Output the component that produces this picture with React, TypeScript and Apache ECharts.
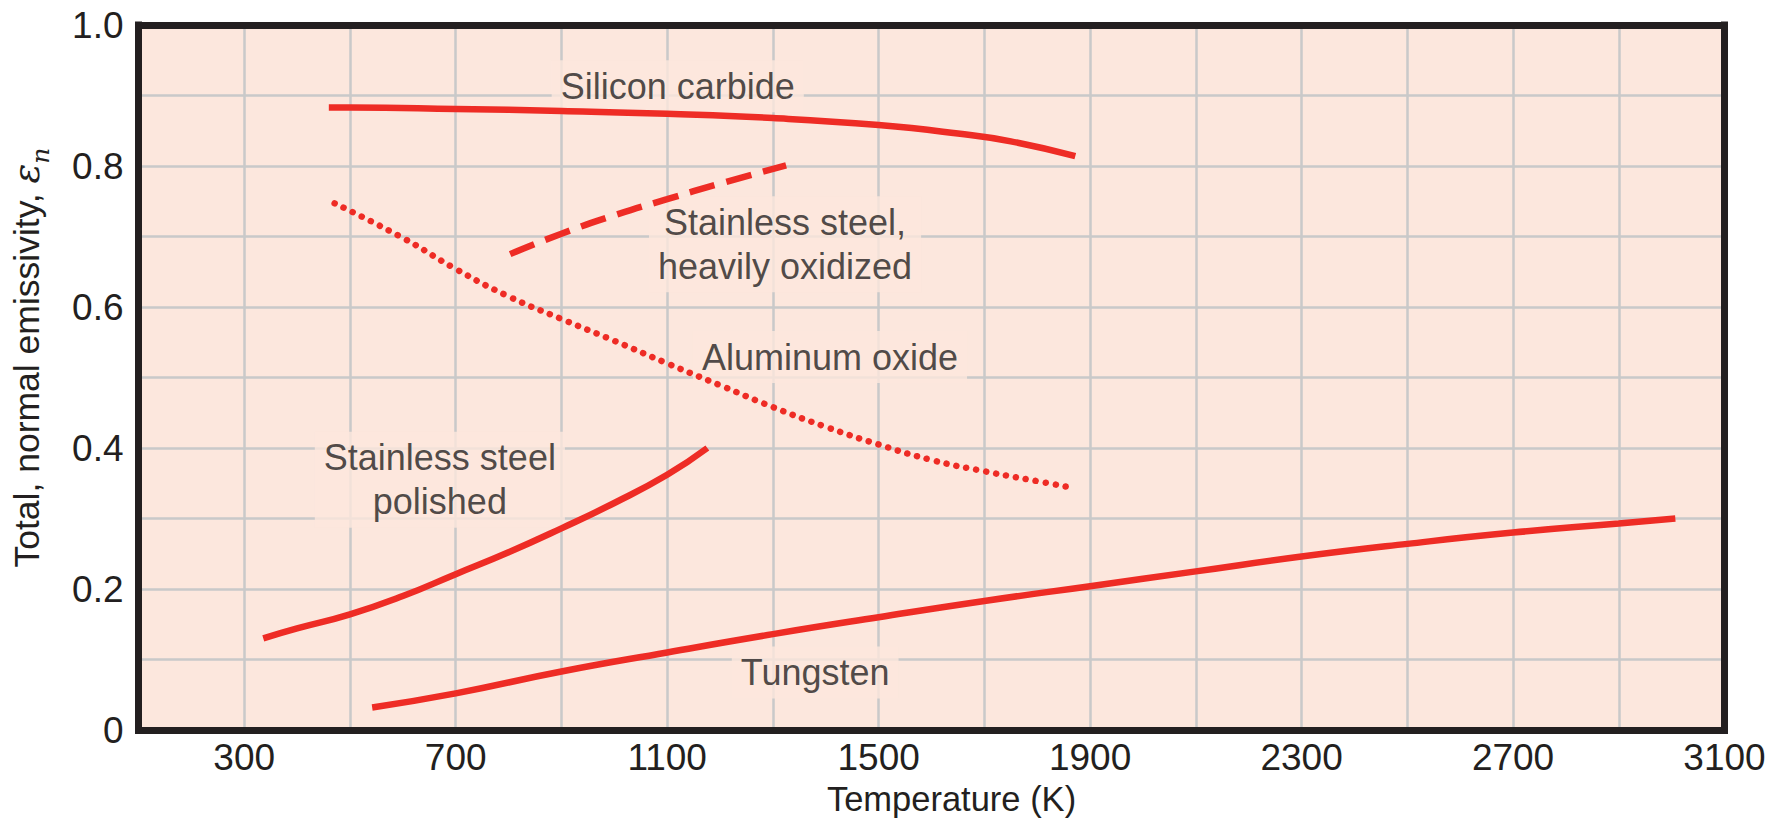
import React, { useEffect, useRef } from 'react';
import * as echarts from 'echarts';

// ---- axis settings ----
const xMin = 100;
const xMax = 3100;
const xStep = 200;
const yMin = 0;
const yMax = 1;
const yStep = 0.1;
const xTickLabels = ['300', '700', '1100', '1500', '1900', '2300', '2700', '3100'];
const yTickLabels = ['0', '0.2', '0.4', '0.6', '0.8', '1.0'];

// ---- series data (temperature K, total normal emissivity) ----
const siliconCarbideT = [460, 500, 700, 900, 1100, 1300, 1500, 1650, 1750, 1872];
const siliconCarbideE = [0.883, 0.883, 0.881, 0.878, 0.874, 0.868, 0.858, 0.846, 0.835, 0.814];

const ssOxidizedT = [803, 900, 1000, 1100, 1200, 1325];
const ssOxidizedE = [0.675, 0.704, 0.73, 0.753, 0.775, 0.801];

const aluminumOxideT = [471, 600, 700, 800, 900, 1000, 1100, 1200, 1300, 1400, 1500, 1600, 1700, 1800, 1870];
const aluminumOxideE = [0.747, 0.698, 0.654, 0.615, 0.583, 0.552, 0.52, 0.489, 0.458, 0.43, 0.405, 0.383, 0.367, 0.353, 0.343];

const ssPolishedT = [336, 400, 500, 600, 700, 800, 900, 1000, 1100, 1176];
const ssPolishedE = [0.13, 0.144, 0.164, 0.19, 0.221, 0.252, 0.286, 0.322, 0.362, 0.4];

const tungstenT = [542, 700, 900, 1100, 1300, 1500, 1700, 1900, 2100, 2300, 2500, 2700, 2900, 3007];
const tungstenE = [0.032, 0.052, 0.083, 0.11, 0.136, 0.16, 0.183, 0.204, 0.225, 0.246, 0.264, 0.28, 0.293, 0.3];

// ---- in-plot annotations ----
const labelTexts = ['Silicon carbide', 'Stainless steel,\nheavily oxidized', 'Aluminum oxide', 'Stainless steel\npolished', 'Tungsten'];
const labelT = [1120, 1323, 1408, 670, 1380];
const labelE = [0.913, 0.689, 0.529, 0.355, 0.0816];

const RED = '#ee2c25';
const INK = '#231f20';
const PLOT_BG = '#fce7dd';
const GRID = '#c9c9c9';
const FONT = '"Liberation Sans", Arial, sans-serif';

const pairs = (t: number[], e: number[]) => t.map((v, i) => [v, e[i]]);

export default function App() {
  const ref = useRef<HTMLDivElement>(null);

  useEffect(() => {
    document.body.style.margin = '0';
    if (!ref.current) return;
    const chart = echarts.init(ref.current, undefined, { renderer: 'svg' });

    const frame = { show: true, onZero: false, lineStyle: { color: INK, width: 7, cap: 'square' } };

    const lineBase = {
      type: 'line',
      showSymbol: false,
      symbol: 'none',
      smooth: 0.5,
      z: 3,
      silent: true,
    };

    chart.setOption({
      animation: false,
      backgroundColor: '#ffffff',
      grid: {
        left: 136.5,
        top: 25,
        width: 1588,
        height: 705,
        show: true,
        backgroundColor: PLOT_BG,
        borderWidth: 0,
      },
      xAxis: [
        {
          type: 'value',
          min: xMin,
          max: xMax,
          interval: xStep,
          position: 'bottom',
          axisLine: frame,
          axisTick: { show: false },
          splitLine: { show: true, lineStyle: { color: GRID, width: 2.5 } },
          axisLabel: {
            margin: 9,
            fontSize: 37,
            color: INK,
            fontFamily: FONT,
            formatter: (v: number) => (xTickLabels.includes(String(Math.round(v))) ? String(Math.round(v)) : ''),
          },
          name: 'Temperature (K)',
          nameLocation: 'middle',
          nameGap: 51,
          nameTextStyle: { fontSize: 34.5, color: INK, fontFamily: FONT, padding: [0, 0, 0, 40] },
        },
        {
          type: 'value',
          min: xMin,
          max: xMax,
          interval: xStep,
          position: 'top',
          axisLine: frame,
          axisTick: { show: false },
          axisLabel: { show: false },
          splitLine: { show: false },
        },
      ],
      yAxis: [
        {
          type: 'value',
          min: yMin,
          max: yMax,
          interval: yStep,
          position: 'left',
          axisLine: frame,
          axisTick: { show: false },
          splitLine: { show: true, lineStyle: { color: GRID, width: 2.5 } },
          axisLabel: {
            margin: 15,
            fontSize: 37,
            color: INK,
            fontFamily: FONT,
            formatter: (v: number) => {
              const s = Math.abs(v) < 1e-9 ? '0' : v.toFixed(1);
              return yTickLabels.includes(s) ? s : '';
            },
          },
          name: '{a|Total, normal emissivity, }{e|ε}{n|n}',
          nameLocation: 'middle',
          nameGap: 92,
          nameRotate: 90,
          nameTextStyle: {
            padding: [0, 0, 0, 40],
            rich: {
              a: { fontSize: 35.5, color: INK, fontFamily: FONT, lineHeight: 40 },
              e: { fontSize: 37, color: INK, fontFamily: '"DejaVu Serif", serif', fontStyle: 'italic', lineHeight: 40 },
              n: { fontSize: 25, color: INK, fontFamily: '"DejaVu Serif", serif', fontStyle: 'italic', verticalAlign: 'bottom', lineHeight: 24, padding: [0, 0, -6, 0] },
            },
          },
        },
        {
          type: 'value',
          min: yMin,
          max: yMax,
          interval: yStep,
          position: 'right',
          axisLine: frame,
          axisTick: { show: false },
          axisLabel: { show: false },
          splitLine: { show: false },
        },
      ],
      series: [
        {
          ...lineBase,
          name: 'Silicon carbide',
          data: pairs(siliconCarbideT, siliconCarbideE),
          lineStyle: { color: RED, width: 6.5 },
        },
        {
          ...lineBase,
          name: 'Stainless steel, heavily oxidized',
          data: pairs(ssOxidizedT, ssOxidizedE),
          lineStyle: { color: RED, width: 6.5, type: [26, 12] },
        },
        {
          ...lineBase,
          name: 'Aluminum oxide',
          data: pairs(aluminumOxideT, aluminumOxideE),
          lineStyle: { color: RED, width: 6.5, type: [0.1, 10], cap: 'round' },
        },
        {
          ...lineBase,
          name: 'Stainless steel polished',
          data: pairs(ssPolishedT, ssPolishedE),
          lineStyle: { color: RED, width: 6.5 },
        },
        {
          ...lineBase,
          name: 'Tungsten',
          data: pairs(tungstenT, tungstenE),
          lineStyle: { color: RED, width: 6.5 },
        },
        {
          type: 'scatter',
          z: 1,
          silent: true,
          symbolSize: 0,
          data: labelTexts.map((txt, i) => ({ value: [labelT[i], labelE[i]], name: txt })),
          label: {
            show: true,
            position: 'inside',
            formatter: (p: any) => p.name,
            fontSize: 36,
            lineHeight: 44,
            color: INK,
            fontFamily: FONT,
            align: 'center',
            verticalAlign: 'middle',
            backgroundColor: PLOT_BG,
            padding: [4, 9],
          },
        },
      ],
    });

    return () => chart.dispose();
  }, []);

  return <div ref={ref} style={{ width: 1783, height: 829 }} />;
}
